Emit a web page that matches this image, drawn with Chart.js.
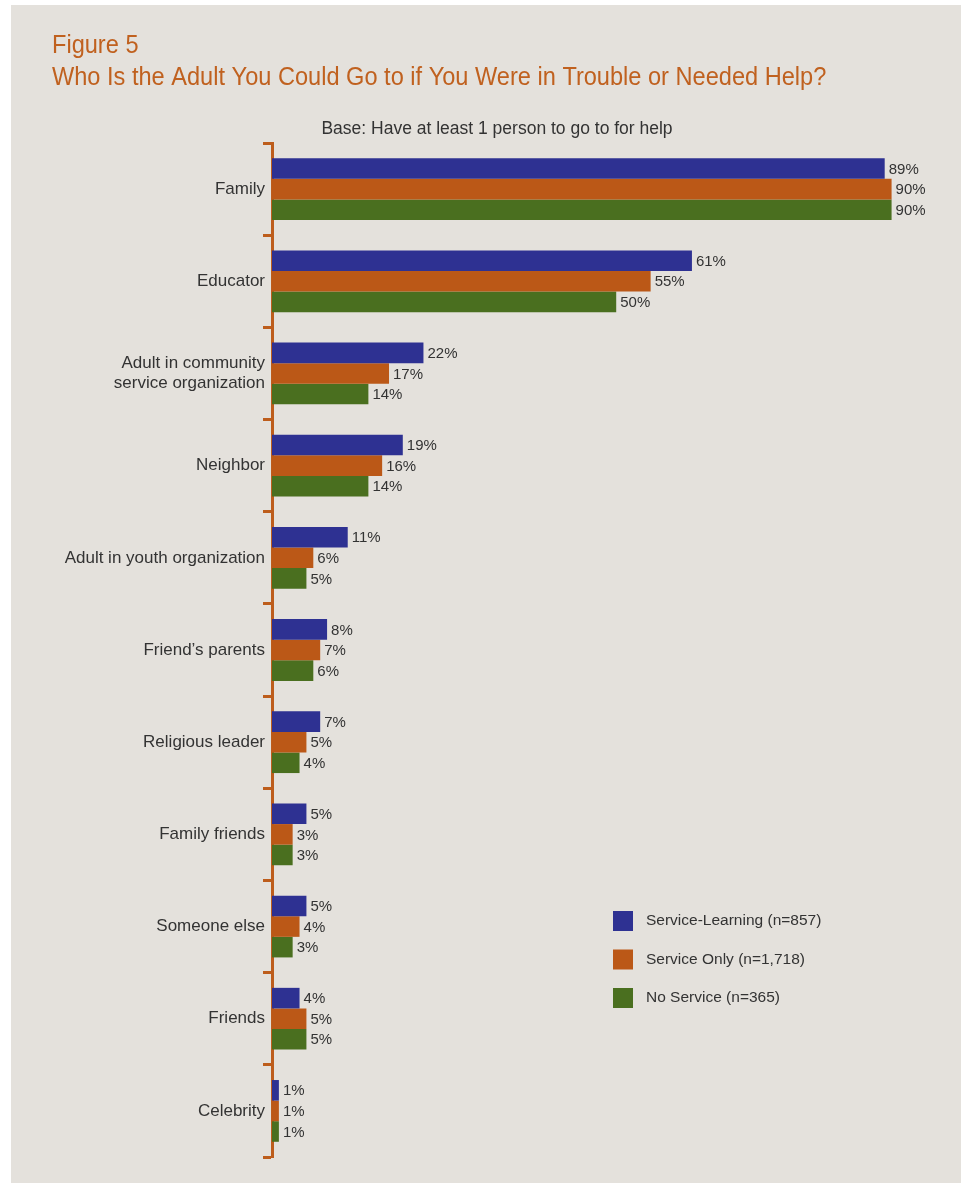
<!DOCTYPE html>
<html>
<head>
<meta charset="utf-8">
<script src="https://cdn.jsdelivr.net/npm/chart.js@4.4.1/dist/chart.umd.min.js"></script>
<style>
  html, body { margin: 0; padding: 0; background: #ffffff; }
  #panel { position: absolute; left: 11px; top: 5px; right: 0; bottom: 0; background: #e4e1dc; }
  #wrap { position: absolute; left: 0; top: 0; width: 961px; height: 1183px; }
</style>
</head>
<body>
<div id="panel"></div>
<div id="wrap"><canvas id="chartAdulto"></canvas></div>
<script>
const categorias = [
  'Family',
  'Educator',
  ['Adult in community', 'service organization'],
  'Neighbor',
  'Adult in youth organization',
  'Friend\u2019s parents',
  'Religious leader',
  'Family friends',
  'Someone else',
  'Friends',
  'Celebrity'
];
const serviceLearning = [89, 61, 22, 19, 11, 8, 7, 5, 5, 4, 1];
const serviceOnly     = [90, 55, 17, 16, 6, 7, 5, 3, 4, 5, 1];
const noService       = [90, 50, 14, 14, 5, 6, 4, 3, 3, 5, 1];
const seriesLabels = ['Service-Learning (n=857)', 'Service Only (n=1,718)', 'No Service (n=365)'];

const FONT = '"Liberation Sans Narrow", "Liberation Sans", Arial, sans-serif';
const ORANGE = '#bd5d1c';
const TEXT = '#333333';

// titulo, base y leyenda dibujados a mano sobre el canvas
const decoPlugin = {
  id: 'deco',
  afterDraw(chart) {
    const ctx = chart.ctx;
    ctx.save();
    ctx.fillStyle = '#c0611f';
    ctx.font = '26px ' + FONT;
    ctx.textAlign = 'left';
    ctx.textBaseline = 'alphabetic';
    // el titulo va algo comprimido en horizontal
    ctx.save();
    ctx.translate(52, 0);
    ctx.scale(0.907, 1);
    ctx.fillText('Figure 5', 0, 53);
    ctx.fillText('Who Is the Adult You Could Go to if You Were in Trouble or Needed Help?', 0, 85);
    ctx.restore();

    ctx.fillStyle = TEXT;
    ctx.font = '17.5px ' + FONT;
    ctx.textAlign = 'center';
    ctx.fillText('Base: Have at least 1 person to go to for help', 497, 134);

    ctx.font = '15.5px ' + FONT;
    ctx.textAlign = 'left';
    ctx.textBaseline = 'middle';
    chart.data.datasets.forEach((ds, i) => {
      const y = 911 + i * 38.5;
      ctx.fillStyle = ds.backgroundColor;
      ctx.fillRect(613, y, 20, 20);
      ctx.fillStyle = TEXT;
      ctx.fillText(seriesLabels[i], 646, y + 10);
    });
    ctx.restore();
  }
};

// etiquetas de porcentaje al final de cada barra
const valoresPlugin = {
  id: 'valores',
  afterDatasetsDraw(chart) {
    const ctx = chart.ctx;
    ctx.save();
    ctx.fillStyle = TEXT;
    ctx.font = '15px ' + FONT;
    ctx.textAlign = 'left';
    ctx.textBaseline = 'middle';
    chart.data.datasets.forEach((ds, i) => {
      chart.getDatasetMeta(i).data.forEach((bar, j) => {
        ctx.fillText(ds.data[j] + '%', bar.x + 4, bar.y + 1);
      });
    });
    ctx.restore();
  }
};

new Chart(document.getElementById('chartAdulto').getContext('2d'), {
  type: 'bar',
  data: {
    labels: categorias,
    datasets: [
      { label: seriesLabels[0], data: serviceLearning, backgroundColor: '#2e3192' },
      { label: seriesLabels[1], data: serviceOnly, backgroundColor: '#bb5817' },
      { label: seriesLabels[2], data: noService, backgroundColor: '#4a6f1f' }
    ]
  },
  options: {
    indexAxis: 'y',
    responsive: true,
    maintainAspectRatio: false,
    animation: false,
    layout: { padding: { top: 143, bottom: 26, left: 0, right: 35 } },
    datasets: { bar: { categoryPercentage: 0.67, barPercentage: 1.0 } },
    plugins: { legend: { display: false }, tooltip: { enabled: false } },
    scales: {
      x: { display: false, min: 0, max: 95 },
      y: {
        afterFit(scale) { scale.width = 272; },
        border: { color: ORANGE, width: 3 },
        grid: {
          offset: true,
          drawOnChartArea: false,
          drawTicks: true,
          tickLength: 9,
          tickWidth: 3,
          tickColor: ORANGE
        },
        ticks: { color: TEXT, font: { family: FONT, size: 17 }, padding: -2 }
      }
    }
  },
  plugins: [valoresPlugin, decoPlugin]
});
</script>
</body>
</html>
